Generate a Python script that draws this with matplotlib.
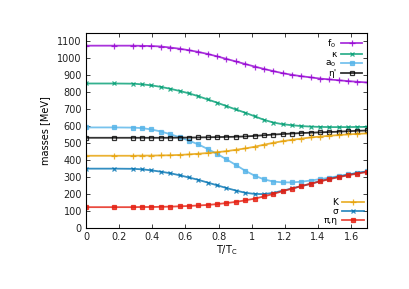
import matplotlib
matplotlib.use("Agg")
import matplotlib.pyplot as plt

t_over_tc = [0.000, 0.169, 0.282, 0.339, 0.395, 0.452, 0.508, 0.565, 0.621, 0.678,
             0.734, 0.791, 0.847, 0.904, 0.960, 1.017, 1.073, 1.130, 1.186, 1.243,
             1.299, 1.356, 1.412, 1.469, 1.525, 1.582, 1.638, 1.695]

f0 = [1075, 1075, 1075, 1074, 1073, 1070, 1064, 1057, 1048, 1038, 1026, 1012, 997, 982,
      967, 952, 938, 925, 913, 903, 895, 888, 881, 876, 871, 866, 862, 858]
kappa = [852, 852, 851, 847, 841, 832, 821, 808, 794, 777, 758, 739, 719, 699, 680, 659,
         638, 622, 612, 606, 601, 598, 596, 595, 595, 595, 596, 596]
a0 = [593, 593, 592, 589, 581, 569, 553, 535, 515, 493, 466, 437, 405, 372, 338, 309,
      287, 274, 269, 269, 273, 280, 288, 297, 306, 316, 326, 334]
etap = [532, 532, 532, 532, 532, 532, 532, 533, 533, 534, 535, 536, 537, 538, 540, 543,
        547, 551, 554, 557, 560, 562, 564, 566, 568, 571, 573, 575]
kaon = [426, 426, 426, 427, 427, 428, 429, 431, 434, 438, 442, 447, 453, 461, 469, 479,
        491, 502, 512, 520, 527, 534, 539, 544, 548, 552, 555, 558]
sigma = [350, 350, 349, 346, 340, 332, 323, 311, 298, 284, 268, 252, 236, 221, 208, 201,
         200, 207, 220, 233, 247, 261, 276, 290, 303, 314, 324, 333]
pieta = [123, 123, 123, 124, 124, 125, 126, 128, 130, 133, 136, 141, 147, 154, 163, 173,
         186, 201, 217, 232, 247, 261, 275, 288, 300, 311, 321, 330]

xticks = [0, 0.2, 0.4, 0.6, 0.8, 1, 1.2, 1.4, 1.6]
xticklabels = ["0", "0.2", "0.4", "0.6", "0.8", "1", "1.2", "1.4", "1.6"]
yticks = list(range(0, 1200, 100))

fig = plt.figure(figsize=(4.1, 2.89), dpi=100)
ax = fig.add_axes([0.2098, 0.211, 0.685, 0.675])

series_top = [
    (f0, r"f$_0$", "#9400d3", "+", 4, "full"),
    (kappa, "κ", "#009e73", "x", 3, "full"),
    (a0, r"a$_0$", "#56b4e9", "s", 2.5, "full"),
    (etap, "η'", "#000000", "s", 3, "none"),
]
series_bot = [
    (kaon, "K", "#e69f00", "+", 4, "full"),
    (sigma, "σ", "#0072b2", "x", 3, "full"),
    (pieta, "π,η", "#e51e10", "s", 2.5, "full"),
]

h_top = []
for y, lab, c, m, ms, fs in series_top:
    h, = ax.plot(t_over_tc, y, color=c, lw=1.3, alpha=0.8, marker=m, ms=ms,
                 mew=0.9, fillstyle=fs, label=lab)
    h_top.append(h)
h_bot = []
for y, lab, c, m, ms, fs in series_bot:
    h, = ax.plot(t_over_tc, y, color=c, lw=1.3, alpha=0.8, marker=m, ms=ms,
                 mew=0.9, fillstyle=fs, label=lab)
    h_bot.append(h)

ax.set_xlim(0, 1.695)
ax.set_ylim(0, 1150)
ax.set_xticks(xticks)
ax.set_xticklabels(xticklabels)
ax.set_yticks(yticks)
ax.tick_params(direction="in", top=True, right=True, labelsize=7, length=3,
               width=0.6, pad=3, colors="#222222")
for s in ax.spines.values():
    s.set_linewidth(0.8)
ax.set_xlabel(r"T/T$_\mathrm{C}$", fontsize=7, labelpad=1)
ax.set_ylabel("masses [MeV]", fontsize=7, labelpad=5)

leg1 = ax.legend(handles=h_top, loc="upper right", fontsize=6.5, frameon=False,
                 markerfirst=False, handlelength=2.4, handletextpad=0.5,
                 labelspacing=0.0, borderaxespad=0.3, borderpad=0.2, numpoints=1)
ax.add_artist(leg1)
leg2 = ax.legend(handles=h_bot, loc="lower right", fontsize=6.5, frameon=False,
                 markerfirst=False, handlelength=2.4, handletextpad=0.5,
                 labelspacing=0.0, borderaxespad=0.1, borderpad=0.2, numpoints=1)

fig.savefig("out.png", dpi=100)
